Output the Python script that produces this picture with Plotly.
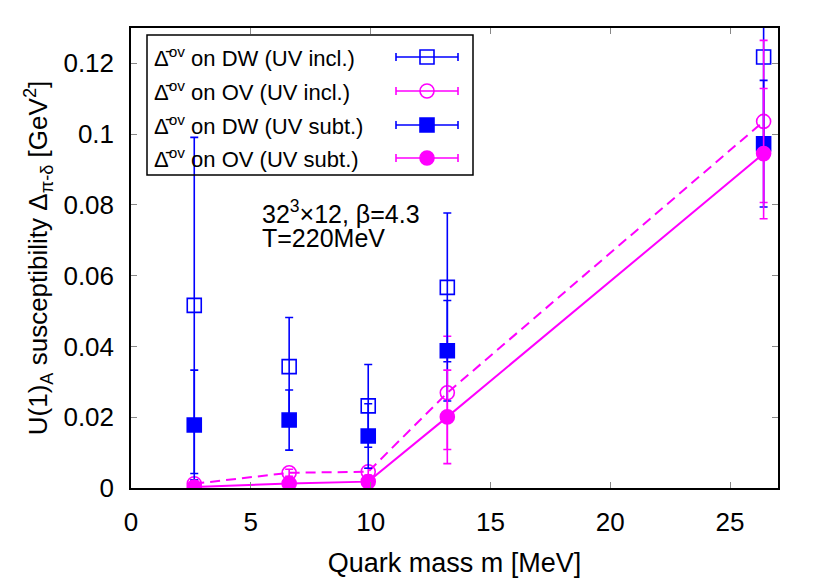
# U(1)_A susceptibility vs quark mass
import plotly.graph_objects as go

# Data
mass = [2.64, 6.6, 9.9, 13.2, 26.4]

dw_incl = [0.0516, 0.0343, 0.0232, 0.0567, 0.1218]
dw_incl_err = [0.0475, 0.0139, 0.0117, 0.0210, 0.0240]

ov_incl = [0.0012, 0.0043, 0.0046, 0.0269, 0.1036]
ov_incl_err = [0.0008, 0.0010, 0.0010, 0.0160, 0.0229]

dw_subt = [0.0178, 0.0192, 0.0147, 0.0388, 0.0973]
dw_subt_err = [0.0155, 0.0085, 0.0091, 0.0142, 0.0179]

ov_subt = [0.0003, 0.0013, 0.0018, 0.0201, 0.0945]
ov_subt_err = [0.0005, 0.0005, 0.0006, 0.0132, 0.0184]

names = [
  "Δ̄<sup>ov</sup> on DW (UV incl.)",
  "Δ̄<sup>ov</sup> on OV (UV incl.)",
  "Δ̄<sup>ov</sup> on DW (UV subt.)",
  "Δ̄<sup>ov</sup> on OV (UV subt.)",
]

BLUE = "#0000ff"
MAGENTA = "#ff00ff"
FONT = "Liberation Sans"

# style per series: (values, errors, color, symbol, line mode, dash)
series = [
  (dw_incl, dw_incl_err, BLUE, "square-open", "markers", None),
  (ov_incl, ov_incl_err, MAGENTA, "circle-open", "lines+markers", "10px,6px"),
  (dw_subt, dw_subt_err, BLUE, "square", "markers", None),
  (ov_subt, ov_subt_err, MAGENTA, "circle", "lines+markers", "solid"),
]

fig = go.Figure()

for (vals, errs, col, sym, mode, dash), name in zip(series, names):
  fig.add_trace(go.Scatter(
    x = mass,
    y = vals,
    mode = mode,
    name = name,
    showlegend = False,
    line = dict(color = col, width = 2, dash = dash),
    marker = dict(symbol = sym, size = 14, color = col,
                  line = dict(color = col, width = 1.6)),
    error_y = dict(type = "data", array = errs, color = col,
                   thickness = 1.6, width = 4),
  ))

# Hand-made legend (text left, sample right) on an overlay axis in pixels
row_y = [29, 63, 97, 130]
for (vals, errs, col, sym, mode, dash), name, ry in zip(series, names, row_y):
  fig.add_trace(go.Scatter(
    x = [296],
    y = [ry],
    xaxis = "x2",
    yaxis = "y2",
    mode = "markers",
    showlegend = False,
    hoverinfo = "skip",
    marker = dict(symbol = sym, size = 14, color = col,
                  line = dict(color = col, width = 1.6)),
    error_x = dict(type = "constant", value = 31, color = col,
                   thickness = 1.6, width = 4),
  ))
  fig.add_annotation(
    x = 21, y = ry, xref = "x2", yref = "y2",
    text = name, showarrow = False, xanchor = "left", yanchor = "middle",
    font = dict(family = FONT, size = 22, color = "black"),
  )

fig.add_shape(type = "rect", xref = "x2", yref = "y2",
              x0 = 16, x1 = 342, y0 = 7, y1 = 147,
              line = dict(color = "black", width = 1.5))

# Lattice parameters
fig.add_annotation(
  x = 5.4, y = 0.0780, xref = "x", yref = "y",
  text = "32<sup>3</sup>×12, β=4.3", showarrow = False,
  xanchor = "left", yanchor = "middle",
  font = dict(family = FONT, size = 25, color = "black"),
)
fig.add_annotation(
  x = 5.4, y = 0.0706, xref = "x", yref = "y",
  text = "T=220MeV", showarrow = False,
  xanchor = "left", yanchor = "middle",
  font = dict(family = FONT, size = 25, color = "black"),
)

axis_style = dict(
  showgrid = False,
  zeroline = False,
  showline = True,
  linecolor = "black",
  linewidth = 1.5,
  mirror = "ticks",
  ticks = "inside",
  ticklen = 6,
  tickcolor = "#888888",
  ticklabelstandoff = 10,
  tickfont = dict(family = FONT, size = 26, color = "black"),
)

fig.update_layout(
  width = 830,
  height = 581,
  paper_bgcolor = "white",
  plot_bgcolor = "white",
  margin = dict(l = 123, r = 60, t = 20, b = 101),
  xaxis = dict(
    range = [0, 27],
    tickvals = [0, 5, 10, 15, 20, 25],
    title = dict(text = "Quark mass m [MeV]", standoff = 17,
                 font = dict(family = FONT, size = 27, color = "black")),
    **axis_style
  ),
  yaxis = dict(
    range = [0, 0.13],
    tickvals = [0, 0.02, 0.04, 0.06, 0.08, 0.1, 0.12],
    ticktext = ["0", "0.02", "0.04", "0.06", "0.08", "0.1", "0.12"],
    title = dict(text = "U(1)<sub>A</sub> susceptibility Δ<sub>π-δ</sub> [GeV<sup>2</sup>]",
                 standoff = 8,
                 font = dict(family = FONT, size = 26, color = "black")),
    **axis_style
  ),
  xaxis2 = dict(overlaying = "x", range = [0, 647], visible = False),
  yaxis2 = dict(overlaying = "y", range = [460, 0], visible = False),
  showlegend = False,
)

fig.write_html("out.html")
